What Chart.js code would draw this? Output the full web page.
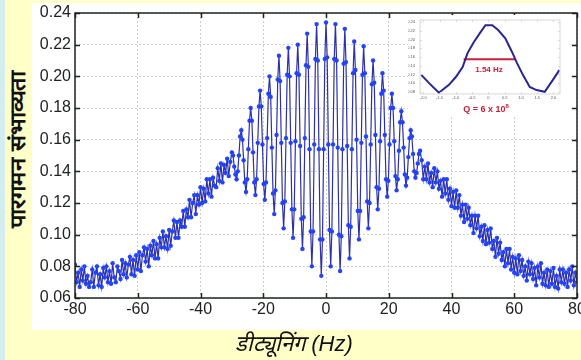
<!DOCTYPE html>
<html>
<head>
<meta charset="utf-8">
<script src="https://cdn.jsdelivr.net/npm/chart.js@4.4.1/dist/chart.umd.min.js"></script>
<style>
  html, body { margin: 0; padding: 0; }
  body { width: 581px; height: 360px; background: #ffffc8; position: relative; overflow: hidden; font-family: "Liberation Sans", Arial, sans-serif; }
  #strip { position: absolute; left: 0; top: 0; width: 5px; height: 360px; background: #d4eef0; }
  #panel { position: absolute; left: 32px; top: 3px; width: 549px; height: 327px; background: #fff; }
  #mainWrap { position: absolute; left: 32px; top: 3px; width: 549px; height: 327px; }
  #insetWrap { position: absolute; left: 408px; top: 15px; width: 162px; height: 102px; background: #fff; }
  #yTitle { position: absolute; left: 17px; top: 150px; transform: translate(-50%, -50%) rotate(-90deg) scaleX(1.13); white-space: nowrap; font-weight: bold; font-size: 21px; color: #111; }
  #xTitle { position: absolute; left: 294px; top: 342px; transform: translate(-50%, -50%); white-space: nowrap; font-style: italic; font-size: 22px; color: #111; }
  .red { position: absolute; color: #c8203a; font-weight: bold; white-space: nowrap; transform: translate(-50%, -50%); line-height: 1; }
</style>
</head>
<body>
<div id="strip"></div>
<div id="panel"></div>
<div id="mainWrap"><canvas id="mainChart" width="549" height="327"></canvas></div>
<div id="insetWrap"><canvas id="insetChart" width="162" height="102"></canvas></div>
<div class="red" style="left:489px; top:70px; font-size:8px;">1.54 Hz</div>
<div class="red" style="left:486px; top:108px; font-size:9px;">Q = 6 x 10<sup style="font-size:6px; vertical-align: 4px;">8</sup></div>
<div id="yTitle">पारगमन संभाव्यता</div>
<div id="xTitle">डीट्यूनिंग (Hz)</div>
<script>
// --- Data ---
const xTicks = [-80, -60, -40, -20, 0, 20, 40, 60, 80];
const yTicks = [0.06, 0.08, 0.10, 0.12, 0.14, 0.16, 0.18, 0.20, 0.22, 0.24];

// left wing: -80 .. -30.5 Hz, every 0.5 Hz
const leftWingStart = -80;
const wingStep = 0.5;
const leftWing = [
  0.081, 0.070, 0.076, 0.067, 0.078, 0.071, 0.080, 0.069, 0.074, 0.067,
  0.070, 0.078, 0.067, 0.076, 0.080, 0.068, 0.075, 0.067, 0.079, 0.073,
  0.080, 0.070, 0.077, 0.069, 0.082, 0.073, 0.070, 0.080, 0.077, 0.072,
  0.084, 0.075, 0.082, 0.073, 0.081, 0.086, 0.075, 0.084, 0.074, 0.087,
  0.078, 0.089, 0.077, 0.087, 0.092, 0.083, 0.091, 0.080, 0.093, 0.087,
  0.096, 0.085, 0.094, 0.085, 0.098, 0.092, 0.102, 0.092, 0.099, 0.091,
  0.103, 0.093, 0.102, 0.109, 0.098, 0.108, 0.098, 0.109, 0.105, 0.115,
  0.105, 0.116, 0.111, 0.122, 0.111, 0.120, 0.125, 0.113, 0.125, 0.119,
  0.130, 0.120, 0.129, 0.121, 0.135, 0.126, 0.135, 0.124, 0.136, 0.131,
  0.130, 0.142, 0.134, 0.145, 0.133, 0.144, 0.139, 0.148, 0.137, 0.146
];

// Ramsey fringes: -30 .. 30 Hz, every 0.375 Hz
const fringeStart = -30;
const fringeStep = 0.375;
const fringes = [
  0.152, 0.150, 0.143, 0.138, 0.135, 0.140, 0.150, 0.162,
  0.166, 0.160, 0.147, 0.133, 0.127, 0.135, 0.154, 0.172,
  0.180, 0.172, 0.152, 0.133, 0.125, 0.135, 0.158, 0.181,
  0.191, 0.181, 0.157, 0.132, 0.122, 0.133, 0.161, 0.189,
  0.200, 0.187, 0.155, 0.126, 0.113, 0.128, 0.163, 0.198,
  0.213, 0.197, 0.158, 0.120, 0.104, 0.121, 0.161, 0.201,
  0.218, 0.200, 0.158, 0.116, 0.098, 0.116, 0.159, 0.202,
  0.220, 0.201, 0.156, 0.110, 0.091, 0.111, 0.161, 0.207,
  0.227, 0.206, 0.154, 0.102, 0.080, 0.102, 0.157, 0.211,
  0.233, 0.210, 0.154, 0.097, 0.074, 0.097, 0.154, 0.211,
  0.234, 0.212, 0.157, 0.103, 0.080, 0.102, 0.157, 0.211,
  0.233, 0.210, 0.155, 0.100, 0.077, 0.099, 0.154, 0.208,
  0.230, 0.209, 0.156, 0.106, 0.085, 0.105, 0.154, 0.202,
  0.222, 0.204, 0.160, 0.115, 0.097, 0.115, 0.158, 0.201,
  0.219, 0.202, 0.162, 0.121, 0.104, 0.120, 0.157, 0.195,
  0.210, 0.196, 0.163, 0.130, 0.116, 0.129, 0.159, 0.189,
  0.202, 0.191, 0.163, 0.135, 0.124, 0.134, 0.157, 0.180,
  0.189, 0.180, 0.159, 0.137, 0.128, 0.135, 0.153, 0.171,
  0.178, 0.171, 0.155, 0.138, 0.131, 0.136, 0.149, 0.161,
  0.166, 0.162, 0.151, 0.140, 0.136, 0.139, 0.145, 0.151,
  0.153
];

// right wing: 30.5 .. 80 Hz, every 0.5 Hz
const rightWingStart = 30.5;
const rightWing = [
  0.147, 0.135, 0.143, 0.135, 0.145, 0.133, 0.139, 0.130, 0.142, 0.133,
  0.140, 0.129, 0.134, 0.124, 0.135, 0.126, 0.135, 0.122, 0.129, 0.118,
  0.127, 0.117, 0.128, 0.117, 0.125, 0.112, 0.119, 0.108, 0.119, 0.110,
  0.117, 0.106, 0.112, 0.101, 0.112, 0.104, 0.112, 0.099, 0.105, 0.096,
  0.106, 0.094, 0.103, 0.095, 0.104, 0.091, 0.096, 0.086, 0.098, 0.088,
  0.095, 0.084, 0.089, 0.080, 0.091, 0.082, 0.091, 0.078, 0.086, 0.076,
  0.085, 0.075, 0.087, 0.077, 0.084, 0.074, 0.080, 0.071, 0.083, 0.075,
  0.082, 0.072, 0.079, 0.068, 0.080, 0.073, 0.082, 0.069, 0.076, 0.068,
  0.078, 0.067, 0.077, 0.069, 0.079, 0.067, 0.074, 0.066, 0.078, 0.070,
  0.078, 0.069, 0.076, 0.067, 0.078, 0.071, 0.080, 0.068, 0.076, 0.070
];

// inset: one resolved central fringe
const insetDetuning = [-2.06, -1.82, -1.52, -1.21, -1.0, -0.79, -0.64, -0.45, -0.24, -0.09, 0.12, 0.30, 0.52, 0.73, 0.88, 1.06, 1.27, 1.48, 1.73, 1.94, 2.18];
const insetProb = [0.119, 0.100, 0.078, 0.096, 0.114, 0.137, 0.169, 0.194, 0.217, 0.233, 0.233, 0.222, 0.203, 0.171, 0.146, 0.119, 0.091, 0.084, 0.080, 0.103, 0.130];
const insetXTicks = [-2, -1.5, -1, -0.5, 0, 0.5, 1, 1.5, 2];
const insetYTicks = [0.08, 0.10, 0.12, 0.14, 0.16, 0.18, 0.20, 0.22, 0.24];
const fwhmEdges = [-0.76, 0.82];
const fwhmLevel = 0.155;

// --- Build points ---
function toPoints(values, start, step) {
  return values.map((v, i) => ({ x: start + i * step, y: v }));
}
const mainPoints = [].concat(
  toPoints(leftWing, leftWingStart, wingStep),
  toPoints(fringes, fringeStart, fringeStep),
  toPoints(rightWing, rightWingStart, wingStep)
);

// frame with inward ticks, MATLAB style
const framePlugin = {
  id: 'frame',
  afterDraw(chart, args, opts) {
    const { ctx, chartArea: a, scales } = chart;
    const len = opts.tickLen;
    ctx.save();
    ctx.strokeStyle = opts.color;
    ctx.lineWidth = opts.lineWidth;
    ctx.beginPath();
    opts.xTicks.forEach(v => {
      const px = Math.round(scales.x.getPixelForValue(v)) + 0.5;
      ctx.moveTo(px, a.bottom); ctx.lineTo(px, a.bottom - len);
      ctx.moveTo(px, a.top); ctx.lineTo(px, a.top + len);
    });
    opts.yTicks.forEach(v => {
      const py = Math.round(scales.y.getPixelForValue(v)) + 0.5;
      ctx.moveTo(a.left, py); ctx.lineTo(a.left + len, py);
      ctx.moveTo(a.right, py); ctx.lineTo(a.right - len, py);
    });
    ctx.stroke();
    ctx.strokeRect(a.left, a.top, a.right - a.left, a.bottom - a.top);
    ctx.restore();
  }
};

function fixedAxis(size, horizontal) {
  return function (scale) {
    if (horizontal) scale.height = size; else scale.width = size;
    scale.paddingLeft = 0; scale.paddingRight = 0;
    scale.paddingTop = 0; scale.paddingBottom = 0;
  };
}

// --- Main chart ---
new Chart(document.getElementById('mainChart'), {
  type: 'line',
  data: {
    datasets: [{
      data: mainPoints,
      borderColor: '#2c31a8',
      borderWidth: 1.2,
      pointRadius: 2.2,
      pointBackgroundColor: '#2343f5',
      pointBorderColor: '#2343f5',
      pointBorderWidth: 0,
      tension: 0
    }]
  },
  options: {
    responsive: false,
    animation: false,
    events: [],
    layout: { padding: { top: 10, right: 1, left: 0, bottom: 0 } },
    plugins: {
      legend: { display: false },
      tooltip: { enabled: false },
      frame: { color: '#1c261c', lineWidth: 1.5, tickLen: 5, xTicks: xTicks, yTicks: yTicks }
    },
    scales: {
      x: {
        type: 'linear', min: -80, max: 80,
        afterBuildTicks: s => { s.ticks = xTicks.map(v => ({ value: v })); },
        afterFit: fixedAxis(32, true),
        grid: { color: '#cfcfcf', drawTicks: false },
        border: { display: false, dash: [2, 2] },
        ticks: { padding: 2, color: '#222', font: { family: 'Liberation Sans', size: 16 }, maxRotation: 0, autoSkip: false }
      },
      y: {
        type: 'linear', min: 0.06, max: 0.24,
        afterBuildTicks: s => { s.ticks = yTicks.map(v => ({ value: v })); },
        afterFit: fixedAxis(43, false),
        grid: { color: '#cfcfcf', drawTicks: false },
        border: { display: false, dash: [2, 2] },
        ticks: { padding: 4, color: '#222', font: { family: 'Liberation Sans', size: 16 }, callback: v => v.toFixed(2) }
      }
    }
  },
  plugins: [framePlugin]
});

// --- Inset chart ---
new Chart(document.getElementById('insetChart'), {
  type: 'line',
  data: {
    datasets: [{
      data: insetDetuning.map((f, i) => ({ x: f, y: insetProb[i] })),
      borderColor: '#27278f',
      borderWidth: 2,
      pointRadius: 0,
      tension: 0
    }, {
      data: fwhmEdges.map(f => ({ x: f, y: fwhmLevel })),
      borderColor: '#c8203a',
      borderWidth: 2,
      pointRadius: 0
    }]
  },
  options: {
    responsive: false,
    animation: false,
    events: [],
    layout: { padding: { top: 5, right: 10, left: 0, bottom: 0 } },
    plugins: {
      legend: { display: false },
      tooltip: { enabled: false },
      frame: { color: '#d8d8d8', lineWidth: 1, tickLen: 2, xTicks: insetXTicks, yTicks: insetYTicks }
    },
    scales: {
      x: {
        type: 'linear', min: -2.1, max: 2.2,
        afterBuildTicks: s => { s.ticks = insetXTicks.map(v => ({ value: v })); },
        afterFit: fixedAxis(23, true),
        grid: { display: false },
        border: { display: false },
        ticks: { padding: -7, color: '#555', font: { family: 'Liberation Sans', size: 4 }, maxRotation: 0, autoSkip: false }
      },
      y: {
        type: 'linear', min: 0.075, max: 0.245,
        afterBuildTicks: s => { s.ticks = insetYTicks.map(v => ({ value: v })); },
        afterFit: fixedAxis(12, false),
        grid: { display: false },
        border: { display: false },
        ticks: { padding: -3, color: '#555', font: { family: 'Liberation Sans', size: 4 }, callback: v => v.toFixed(2) }
      }
    }
  },
  plugins: [framePlugin]
});
</script>
</body>
</html>
